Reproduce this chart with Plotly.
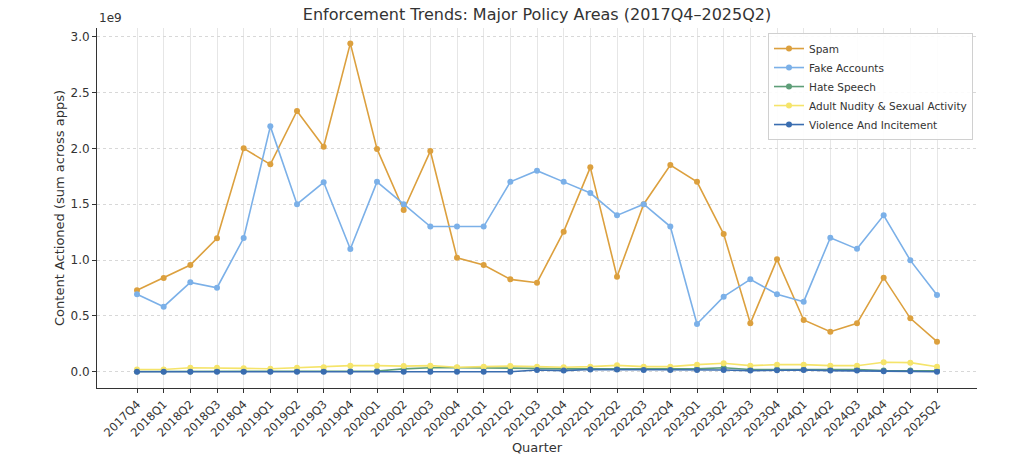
import plotly.graph_objects as go

quarters = ["2017Q4", "2018Q1", "2018Q2", "2018Q3", "2018Q4", "2019Q1", "2019Q2", "2019Q3",
            "2019Q4", "2020Q1", "2020Q2", "2020Q3", "2020Q4", "2021Q1", "2021Q2", "2021Q3",
            "2021Q4", "2022Q1", "2022Q2", "2022Q3", "2022Q4", "2023Q1", "2023Q2", "2023Q3",
            "2023Q4", "2024Q1", "2024Q2", "2024Q3", "2024Q4", "2025Q1", "2025Q2"]

# values in units of 1e9
spam = [0.73, 0.84, 0.955, 1.195, 2.0, 1.857, 2.335, 2.015, 2.94, 1.995, 1.448, 1.976,
        1.02, 0.955, 0.827, 0.797, 1.254, 1.83, 0.85, 1.50, 1.85, 1.70, 1.233, 0.433,
        1.006, 0.463, 0.358, 0.433, 0.842, 0.478, 0.269]
fake_accounts = [0.693, 0.582, 0.80, 0.752, 1.197, 2.197, 1.50, 1.696, 1.099, 1.70, 1.50, 1.30,
                 1.30, 1.30, 1.70, 1.80, 1.70, 1.60, 1.40, 1.50, 1.30, 0.427, 0.672, 0.827,
                 0.693, 0.627, 1.20, 1.10, 1.40, 0.997, 0.687]
hate_speech = [0.002, 0.002, 0.002, 0.003, 0.003, 0.003, 0.003, 0.003, 0.004, 0.006, 0.025, 0.035,
               0.035, 0.035, 0.035, 0.03, 0.025, 0.025, 0.025, 0.025, 0.025, 0.025, 0.035, 0.02,
               0.02, 0.02, 0.02, 0.02, 0.01, 0.01, 0.008]
adult_nudity = [0.02, 0.02, 0.036, 0.036, 0.03, 0.027, 0.036, 0.04, 0.054, 0.054, 0.05, 0.054,
                0.04, 0.045, 0.05, 0.045, 0.04, 0.045, 0.057, 0.045, 0.045, 0.063, 0.075, 0.054,
                0.063, 0.063, 0.054, 0.054, 0.084, 0.081, 0.045]
violence = [0.0, 0.0, 0.0, 0.0, 0.0, 0.0, 0.0, 0.0, 0.0, 0.0, 0.0, 0.0,
            0.0, 0.0, 0.0, 0.015, 0.01, 0.02, 0.02, 0.015, 0.015, 0.015, 0.015, 0.01,
            0.012, 0.015, 0.01, 0.01, 0.005, 0.003, 0.0]

series = [
    ("Spam", spam, "#DCA03E"),
    ("Fake Accounts", fake_accounts, "#7BB0E8"),
    ("Hate Speech", hate_speech, "#5E9E78"),
    ("Adult Nudity & Sexual Activity", adult_nudity, "#F5E46A"),
    ("Violence And Incitement", violence, "#3A6DB0"),
]

FONT = "DejaVu Sans"
fig = go.Figure()
for name, vals, color in series:
    fig.add_trace(go.Scatter(
        x=quarters, y=vals, name=name, mode="lines+markers",
        line=dict(color=color, width=1.6),
        marker=dict(color=color, size=6),
    ))

fig.update_layout(
    width=1024, height=462,
    margin=dict(l=97, r=47, t=28, b=74),
    paper_bgcolor="white", plot_bgcolor="white",
    font=dict(family=FONT, color="#333333", size=12),
    title=dict(text="Enforcement Trends: Major Policy Areas (2017Q4–2025Q2)",
               x=537 / 1024, xanchor="center", y=1 - 14 / 462, yanchor="middle",
               font=dict(size=16, family=FONT, color="#333333")),
    showlegend=True,
    legend=dict(x=0.7625, y=0.986, xanchor="left", yanchor="top",
                bgcolor="rgba(255,255,255,0.9)", bordercolor="#D0D0D0", borderwidth=1,
                font=dict(size=10.5, family=FONT, color="#333333"),
                itemwidth=30, tracegroupgap=0),
)

fig.update_xaxes(
    type="category", categoryorder="array", categoryarray=quarters,
    range=[-1.5, 31.5], automargin=False,
    tickangle=-45, tickfont=dict(size=11.5, family=FONT, color="#333333"),
    ticks="outside", ticklen=4, tickcolor="#333333",
    showgrid=True, gridcolor="#E6E6E6", gridwidth=1,
    showline=True, linecolor="#333333", linewidth=1, mirror=False,
    title=dict(text="Quarter", font=dict(size=13, family=FONT, color="#333333"), standoff=4),
    zeroline=False,
)
fig.update_yaxes(
    range=[-0.146, 3.078], automargin=False,
    tickvals=[0, 0.5, 1.0, 1.5, 2.0, 2.5, 3.0],
    ticktext=["0.0", "0.5", "1.0", "1.5", "2.0", "2.5", "3.0"],
    tickfont=dict(size=12, family=FONT, color="#333333"),
    ticks="outside", ticklen=4, tickcolor="#333333",
    showgrid=True, gridcolor="#D8D8D8", gridwidth=1, griddash="dot",
    showline=True, linecolor="#333333", linewidth=1, mirror=False,
    zeroline=False,
    title=dict(text="Content Actioned (sum across apps)",
               font=dict(size=13, family=FONT, color="#333333"), standoff=2),
)

fig.add_annotation(text="1e9", xref="paper", yref="paper", x=0, y=1, xanchor="left",
                   yanchor="bottom", showarrow=False, yshift=1,
                   font=dict(size=12, family=FONT, color="#333333"))

fig.write_html("out.html", config={"displayModeBar": False},
               post_script="document.body.style.margin='0';document.body.style.padding='0';")
